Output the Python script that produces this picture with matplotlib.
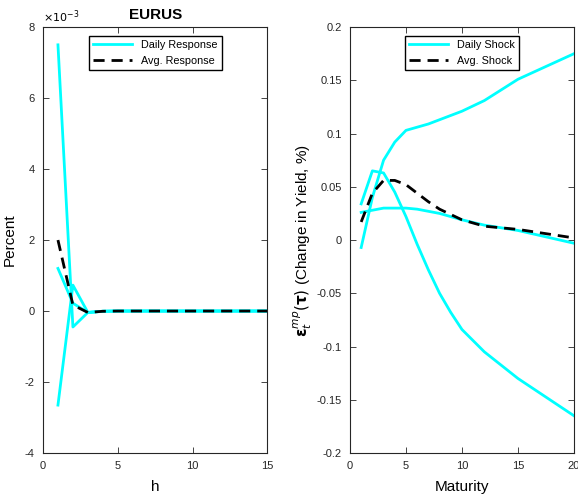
import numpy as np
import matplotlib
matplotlib.use("Agg")
import matplotlib.pyplot as plt

plt.rcParams['font.family'] = ['Liberation Sans', 'DejaVu Sans']
plt.rcParams['mathtext.fontset'] = 'dejavusans'
plt.rcParams['axes.unicode_minus'] = False

# left panel: responses by horizon h (units of 1e-3 percent)
h = [1, 2, 3, 4, 5, 6, 7, 8, 9, 10, 11, 12, 13, 14, 15]
resp_a = [7.5, -0.45, -0.04, -0.01, 0, 0, 0, 0, 0, 0, 0, 0, 0, 0, 0]
resp_b = [1.2, 0.22, -0.04, -0.005, 0, 0, 0, 0, 0, 0, 0, 0, 0, 0, 0]
resp_c = [-2.65, 0.73, -0.04, -0.005, 0, 0, 0, 0, 0, 0, 0, 0, 0, 0, 0]
resp_avg = [2.0, 0.17, -0.04, -0.007, 0, 0, 0, 0, 0, 0, 0, 0, 0, 0, 0]

# right panel: shocks by maturity
maturity = [1, 2, 3, 4, 5, 6, 7, 8, 9, 10, 12, 15, 20]
shock_a = [0.034, 0.065, 0.063, 0.045, 0.022, -0.004, -0.028, -0.05, -0.068, -0.084, -0.105, -0.13, -0.165]
shock_b = [-0.007, 0.04, 0.075, 0.092, 0.103, 0.106, 0.109, 0.113, 0.117, 0.121, 0.131, 0.151, 0.175]
shock_c = [0.026, 0.028, 0.03, 0.03, 0.03, 0.029, 0.027, 0.025, 0.022, 0.019, 0.014, 0.009, -0.003]
shock_avg = [0.017, 0.044, 0.056, 0.056, 0.052, 0.044, 0.036, 0.029, 0.024, 0.019, 0.013, 0.01, 0.002]

cyan = '#00ffff'
fig = plt.figure(figsize=(5.78, 4.97), dpi=100)
ax1 = fig.add_axes([0.0744, 0.0885, 0.388, 0.857])
ax2 = fig.add_axes([0.6055, 0.0885, 0.3875, 0.857])

# left
ax1.plot(h, resp_a, color=cyan, lw=2, label='Daily Response')
ax1.plot(h, resp_b, color=cyan, lw=2)
ax1.plot(h, resp_c, color=cyan, lw=2)
ax1.plot(h, resp_avg, color='black', lw=2, ls=(0, (4, 2.5)), label='Avg. Response')
ax1.set_xlim(0, 15)
ax1.set_ylim(-4, 8)
ax1.set_xticks([0, 5, 10, 15])
ax1.set_yticks([-4, -2, 0, 2, 4, 6, 8])
ax1.set_xlabel('h', fontsize=11, labelpad=6)
ax1.set_ylabel('Percent', fontsize=11, labelpad=6)
ax1.set_title('EURUS', fontsize=11, fontweight='bold', pad=6)
ax1.text(0.0, 1.005, r'$\times10^{-3}$', transform=ax1.transAxes, fontsize=8,
         ha='left', va='bottom')
ax1.legend(loc='upper center', fontsize=7.8, fancybox=False, edgecolor='black',
           framealpha=1, borderaxespad=0.8, handlelength=3.6)

# right
ax2.plot(maturity, shock_a, color=cyan, lw=2, label='Daily Shock')
ax2.plot(maturity, shock_b, color=cyan, lw=2)
ax2.plot(maturity, shock_c, color=cyan, lw=2)
ax2.plot(maturity, shock_avg, color='black', lw=2, ls=(0, (4, 2.5)), label='Avg. Shock')
ax2.set_xlim(0, 20)
ax2.set_ylim(-0.2, 0.2)
ax2.set_xticks([0, 5, 10, 15, 20])
yt = [-0.2, -0.15, -0.1, -0.05, 0, 0.05, 0.1, 0.15, 0.2]
ax2.set_yticks(yt)
ax2.set_yticklabels(['-0.2', '-0.15', '-0.1', '-0.05', '0', '0.05', '0.1', '0.15', '0.2'])
ax2.set_xlabel('Maturity', fontsize=11, labelpad=6)
ax2.set_ylabel(r'$\mathbf{\epsilon}_t^{mp}(\mathbf{\tau})$ (Change in Yield, %)', fontsize=11, labelpad=2)
ax2.legend(loc='upper center', fontsize=7.8, fancybox=False, edgecolor='black',
           framealpha=1, borderaxespad=0.8, handlelength=3.6)

for ax in (ax1, ax2):
    ax.tick_params(direction='in', top=True, right=True, labelsize=8, length=4,
                   width=0.6, colors='#262626', pad=6)
    for s in ax.spines.values():
        s.set_linewidth(0.8)
        s.set_color('#262626')

fig.savefig('out.png', dpi=100)
